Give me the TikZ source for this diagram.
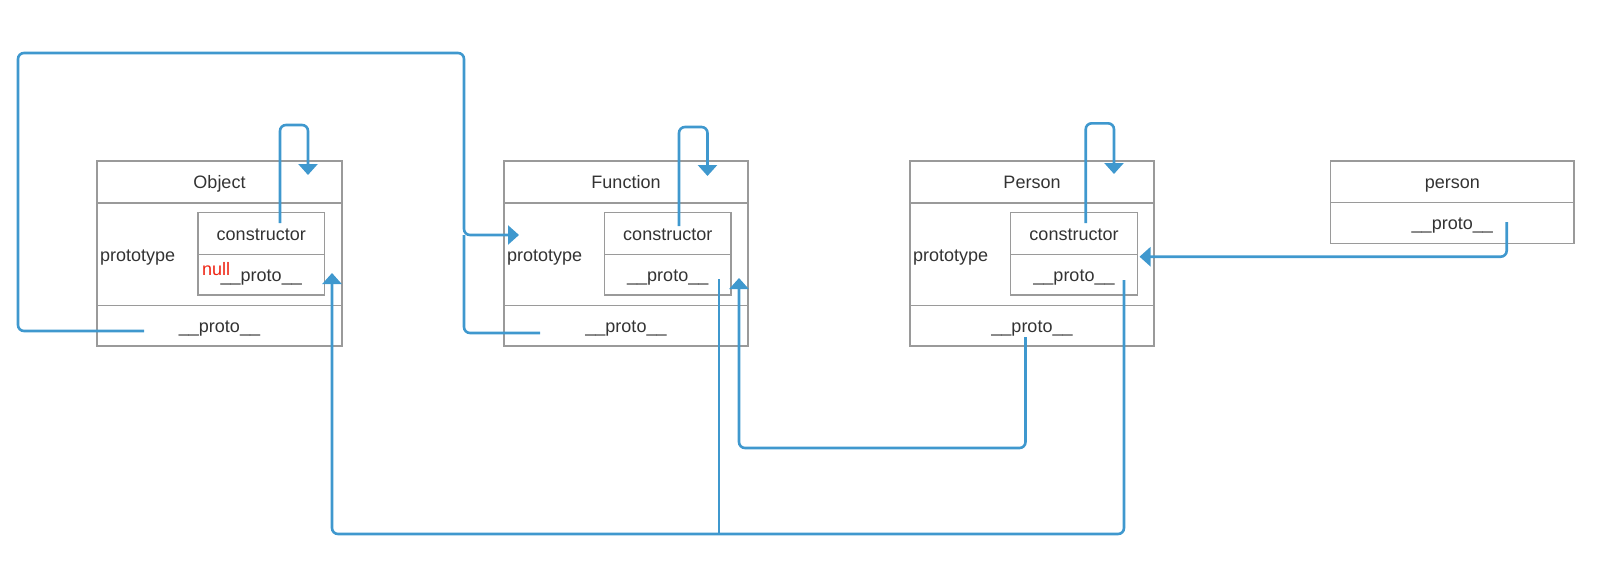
\documentclass[tikz,border=0pt]{standalone}
\usepackage{fontspec}
\setmainfont{Liberation Sans}
\usetikzlibrary{arrows.meta}
\definecolor{boxgray}{HTML}{9A9A9A}
\definecolor{linkblue}{HTML}{3F98CE}
\definecolor{txt}{HTML}{333333}
\definecolor{nullred}{HTML}{EE2211}
\begin{document}
\begin{tikzpicture}[x=1pt,y=-1pt,
  font=\fontsize{18pt}{22pt}\selectfont, text=txt,
  cell/.style={draw=boxgray, line width=1.3pt, inner sep=0pt, text height=13pt, text depth=0pt},
  lbl/.style={inner sep=0pt, anchor=base west},
  conn/.style={draw=linkblue, line width=2.6pt, rounded corners=6pt},
  arr/.style={-{Triangle[width=19pt,length=11pt]}}]
\useasboundingbox (0,0) rectangle (1600,576);

% ---------- Object ----------
\node[cell, minimum width=245pt, minimum height=42pt]    (objHead) at (219.5,182)    {Object};
\node[cell, minimum width=245pt, minimum height=102.5pt] (objMid)  at (219.5,254.25) {};
\node[cell, minimum width=245pt, minimum height=40.5pt]  (objBot)  at (219.5,325.75) {\_\_proto\_\_};
\node[cell, minimum width=126.5pt, minimum height=42pt]  (objCons) at (261.25,233.7) {constructor};
\node[cell, minimum width=126.5pt, minimum height=40.3pt](objIP)   at (261.25,274.85) {\_\_proto\_\_};
\node[lbl] (objProt) at (100,261) {prototype};
\node[lbl, text=nullred] (objNull) at (202,275.5) {null};

% ---------- Function ----------
\node[cell, minimum width=244pt, minimum height=42pt]    (funHead) at (626,182)    {Function};
\node[cell, minimum width=244pt, minimum height=102.5pt] (funMid)  at (626,254.25) {};
\node[cell, minimum width=244pt, minimum height=40.5pt]  (funBot)  at (626,325.75) {\_\_proto\_\_};
\node[cell, minimum width=126.5pt, minimum height=42pt]  (funCons) at (667.75,233.7) {constructor};
\node[cell, minimum width=126.5pt, minimum height=40.3pt](funIP)   at (667.75,274.85) {\_\_proto\_\_};
\node[lbl] (funProt) at (507,261) {prototype};

% ---------- Person ----------
\node[cell, minimum width=244pt, minimum height=42pt]    (perHead) at (1032,182)    {Person};
\node[cell, minimum width=244pt, minimum height=102.5pt] (perMid)  at (1032,254.25) {};
\node[cell, minimum width=244pt, minimum height=40.5pt]  (perBot)  at (1032,325.75) {\_\_proto\_\_};
\node[cell, minimum width=126.5pt, minimum height=42pt]  (perCons) at (1074,233.7) {constructor};
\node[cell, minimum width=126.5pt, minimum height=40.3pt](perIP)   at (1074,274.85) {\_\_proto\_\_};
\node[lbl] (perProt) at (913,261) {prototype};

% ---------- person ----------
\node[cell, minimum width=243.5pt, minimum height=41.5pt] (instHead)  at (1452.25,181.75) {person};
\node[cell, minimum width=243.5pt, minimum height=41pt]   (instProto) at (1452.25,223)    {\_\_proto\_\_};

% ---------- connector end points ----------
\coordinate (oLoopS) at (280,223);    \coordinate (oLoopE) at (308,175);
\coordinate (fLoopS) at (679,226);    \coordinate (fLoopE) at (707.5,176);
\coordinate (pLoopS) at (1085.7,223); \coordinate (pLoopE) at (1114,174);
\coordinate (oBotS)  at (144,331);
\coordinate (fBotS)  at (540,333);
\coordinate (fProtE) at (519,235);
\coordinate (pIPS)   at (1124,280);
\coordinate (fIPS)   at (719,279);
\coordinate (oIPE)   at (332,273);
\coordinate (pBotS)  at (1025.5,337);
\coordinate (fIPE)   at (739,278);
\coordinate (iProtS) at (1506.7,222);
\coordinate (pProtE) at (1139.5,256.7);

% constructor self loops
\draw[conn,arr] (oLoopS) -- (280,125) -- (308,125) -- (oLoopE);
\draw[conn,arr] (fLoopS) -- (679,127) -- (707.5,127) -- (fLoopE);
\draw[conn,arr] (pLoopS) -- (1085.7,123.3) -- (1114,123.3) -- (pLoopE);

% Object.__proto__ and Function.__proto__ -> Function.prototype
\draw[conn,arr] (oBotS) -- (18,331) -- (18,53) -- (464,53) -- (464,235) -- (fProtE);
\draw[conn] (fBotS) -- (464,333) -- (464,235);

% Function.prototype.__proto__ and Person.prototype.__proto__ -> Object.prototype
\draw[conn,arr] (pIPS) -- (1124,534) -- (332,534) -- (oIPE);
\draw[conn] (fIPS) -- (719,534);

% Person.__proto__ -> Function.prototype
\draw[conn,arr] (pBotS) -- (1025.5,448) -- (739,448) -- (fIPE);

% person.__proto__ -> Person.prototype
\draw[conn,arr] (iProtS) -- (1506.7,256.7) -- (pProtE);
\end{tikzpicture}
\end{document}
